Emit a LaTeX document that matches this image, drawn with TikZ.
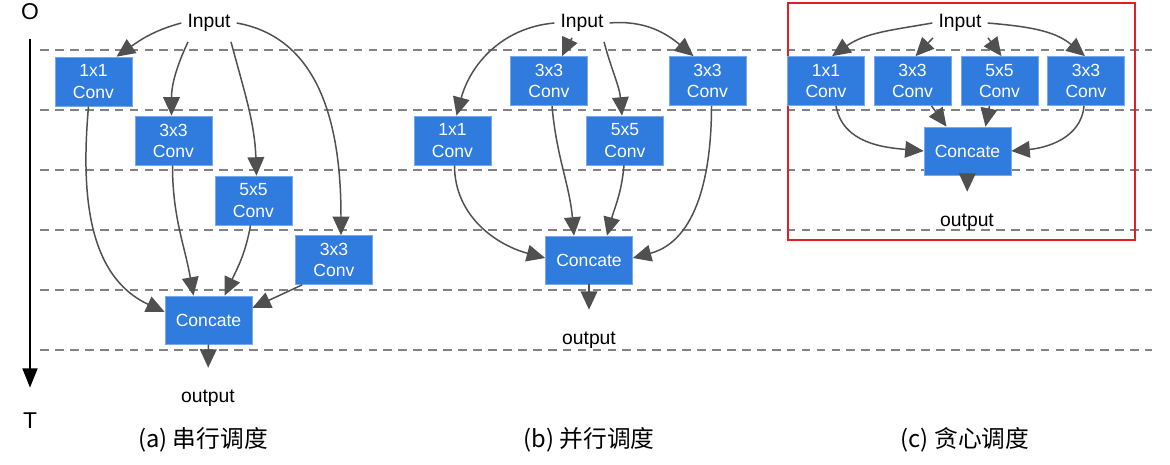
\documentclass[tikz,border=0pt]{standalone}
\usepackage{fontspec}
\setmainfont{Liberation Sans}
\newfontfamily\cjkfont{Noto Sans CJK SC}
\usetikzlibrary{arrows.meta,calc}

\definecolor{convblue}{RGB}{47,124,222}
\definecolor{convedge}{RGB}{120,170,235}
\definecolor{arrgray}{RGB}{80,80,80}
\definecolor{linegray}{RGB}{130,130,130}
\definecolor{boxred}{RGB}{228,30,38}

\begin{document}
\begin{tikzpicture}[
    x=0.02cm, y=0.02cm,
    conv/.style={rectangle, fill=convblue, draw=convedge, line width=0.4pt, text=white, align=center,
        font=\fontsize{10}{12}\selectfont, minimum width=1.54cm, minimum height=0.98cm, inner sep=1pt},
    concat/.style={conv, minimum width=1.74cm, minimum height=0.96cm},
    iotext/.style={font=\fontsize{11}{13}\selectfont},
    axtext/.style={font=\fontsize{13}{15}\selectfont},
    captext/.style={font=\cjkfont\fontsize{13.5}{16}\selectfont},
    arr/.style={-{Triangle[length=10.5pt,width=9.5pt]}, draw=arrgray, line width=0.85pt},
    timeaxis/.style={-{Triangle[length=11pt,width=8.5pt]}, line width=1.2pt},
    sepline/.style={draw=linegray, line width=0.7pt, dash pattern=on 5pt off 3.5pt},
]
\useasboundingbox (0,0) rectangle (1170,-464);

% Righe tratteggiate
\foreach \y in {50,110,...,350}
    \draw[sepline] (40,-\y) -- (1152,-\y);

% Asse temporale
\node[axtext] (axO) at (30,-12) {O};
\node[axtext] (axT) at (30,-421) {T};
\draw[timeaxis, shorten <=7pt, shorten >=11pt] (axO) -- (axT);

% (a) serial
\node[iotext] (inA) at (209,-23) {Input};
\node[conv] (convA1) at (93.5,-81.5) {1x1\\Conv};
\node[conv] (convA2) at (173.5,-140.5) {3x3\\Conv};
\node[conv] (convA3) at (253.5,-200.5) {5x5\\Conv};
\node[conv] (convA4) at (334,-260) {3x3\\Conv};
\node[concat] (concatA) at (208.5,-320) {Concate};
\node[iotext] (outA) at (208,-398) {output};
\node[captext] (capA) at (203,-440) {(a) 串行调度};

\draw[arr] (inA.west) to[out=195,in=35] ($(convA1.north)+(23,0)$);
\draw[arr] ($(inA.south)+(-21,-4)$) to[out=-115,in=90] ($(convA2.north)+(-2,0)$);
\draw[arr] ($(inA.south)+(22,-4)$) to[out=-75,in=92] ($(convA3.north)+(3,0)$);
\draw[arr] (inA.east) to[out=-10,in=90] ($(convA4.north)+(7,0)$);
\draw[arr] ($(convA1.south)+(-5,0)$) to[out=-95,in=155] ($(concatA.west)+(0,8)$);
\draw[arr] ($(convA2.south)+(-1,0)$) to[out=-90,in=100] ($(concatA.north)+(-15,0)$);
\draw[arr] ($(convA3.south)+(-3,0)$) to[out=-100,in=65] ($(concatA.north)+(16,0)$);
\draw[arr] ($(convA4.south west)+(7,0)$) -- ($(concatA.east)+(0,12)$);
\draw[arr, shorten >=9pt] (concatA) -- (outA);

% (b) parallel
\node[iotext] (inB) at (582,-23) {Input};
\node[conv] (convB1) at (549,-81) {3x3\\Conv};
\node[conv] (convB2) at (707.5,-81) {3x3\\Conv};
\node[conv] (convB3) at (452.5,-140.5) {1x1\\Conv};
\node[conv] (convB4) at (625,-140.5) {5x5\\Conv};
\node[concat] (concatB) at (589,-260) {Concate};
\node[iotext] (outB) at (589,-340) {output};
\node[captext] (capB) at (589,-440) {(b) 并行调度};

\draw[arr] (inB.west) to[out=185,in=75] ($(convB3.north)+(4,0)$);
\draw[arr] ($(inB.south)+(-10,0)$) to[out=-115,in=65] ($(convB1.north)+(13,0)$);
\draw[arr] ($(inB.south)+(22,-4)$) to[out=-75,in=95] ($(convB4.north)+(-3,0)$);
\draw[arr] (inB.east) to[out=5,in=140] ($(convB2.north)+(-14,0)$);
\draw[arr] ($(convB1.south)+(3,0)$) to[out=-85,in=95] ($(concatB.north)+(-15,0)$);
\draw[arr] ($(convB4.south)+(-1,0)$) to[out=-95,in=75] ($(concatB.north)+(18,0)$);
\draw[arr] ($(convB3.south)+(2,0)$) to[out=-90,in=165] ($(concatB.west)+(0,2)$);
\draw[arr] ($(convB2.south)+(4,0)$) to[out=-90,in=15] ($(concatB.east)+(0,2)$);
\draw[arr, shorten >=9pt] (concatB) -- (outB);

% (c) greedy
\draw[boxred, line width=1.4pt] (788,-3) rectangle (1135,-240);
\node[iotext] (inC) at (960,-23) {Input};
\node[conv] (convC1) at (826,-81) {1x1\\Conv};
\node[conv] (convC2) at (912.5,-81) {3x3\\Conv};
\node[conv] (convC3) at (999.5,-81) {5x5\\Conv};
\node[conv] (convC4) at (1086,-81) {3x3\\Conv};
\node[concat] (concatC) at (967.5,-151) {Concate};
\node[iotext] (outC) at (967,-222) {output};
\node[captext] (capC) at (965,-440) {(c) 贪心调度};

\draw[arr] (inC.west) to[out=190,in=35] ($(convC1.north)+(6,0)$);
\draw[arr] ($(inC.south)+(-27,0)$) -- ($(convC2.north)+(3,0)$);
\draw[arr] ($(inC.south)+(28,0)$) -- ($(convC3.north)+(2,0)$);
\draw[arr] (inC.east) to[out=-5,in=140] ($(convC4.north)+(-1,0)$);
\draw[arr] ($(convC1.south)+(10,0)$) to[out=-80,in=175] (concatC.west);
\draw[arr] ($(convC2.south)+(19,0)$) -- ($(concatC.north)+(-21,0)$);
\draw[arr] ($(convC3.south)+(-10,0)$) -- ($(concatC.north)+(18,0)$);
\draw[arr] ($(convC4.south)+(-2,0)$) to[out=-95,in=5] (concatC.east);
\draw[arr, shorten >=9pt] (concatC) -- (outC);

\end{tikzpicture}
\end{document}
